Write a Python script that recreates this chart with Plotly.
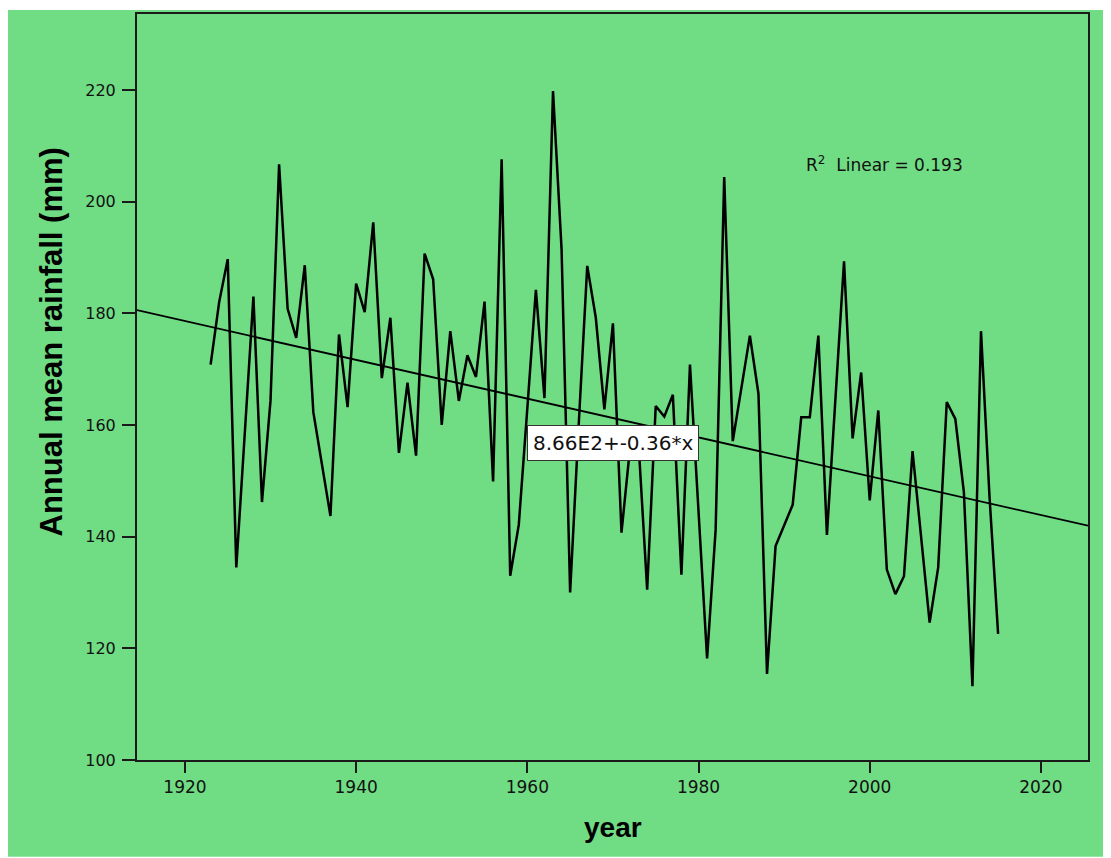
import numpy as np
import plotly.graph_objects as go

years = list(range(1923, 2016))
rainfall = [
    170.8, 182.0, 189.7, 134.5, 158.7, 183.0, 146.2, 164.4, 206.7, 180.8,  # 1923-1932
    175.6, 188.6, 162.3, 153.0, 143.7, 176.2, 163.2, 185.3, 180.2, 196.3,  # 1933-1942
    168.4, 179.2, 155.0, 167.6, 154.5, 190.7, 186.1, 160.0, 176.8, 164.3,  # 1943-1952
    172.5, 168.6, 182.1, 149.9, 207.6, 133.0, 142.1, 163.0, 184.2, 164.8,  # 1953-1962
    219.8, 191.5, 130.0, 160.0, 188.5, 179.2, 162.8, 178.2, 140.7, 156.0,  # 1963-1972
    156.5, 130.5, 163.4, 161.5, 165.4, 133.2, 170.8, 144.5, 118.2, 141.3,  # 1973-1982
    204.4, 157.1, 166.4, 176.0, 165.6, 115.4, 138.3, 142.0, 145.7, 161.4,  # 1983-1992
    161.4, 176.0, 140.3, 164.8, 189.3, 157.6, 169.4, 146.5, 162.6, 134.1,  # 1993-2002
    129.7, 132.9, 155.3, 140.0, 124.6, 134.5, 164.1, 161.1, 148.0, 113.2,  # 2003-2012
    176.8, 147.0, 122.6,                                                    # 2013-2015
]

x_range = [1914.4, 2025.5]
y_range = [100, 233.6]
x_ticks = [1920, 1940, 1960, 1980, 2000, 2020]
y_ticks = [100, 120, 140, 160, 180, 200, 220]
eq_label = "8.66E2+-0.36*x"
r2_label = "R<sup>2</sup>  Linear = 0.193"

GREEN = "#70DC84"

slope, intercept = np.polyfit(years, rainfall, 1)
trend_x = np.array(x_range)
trend_y = intercept + slope * trend_x

fig = go.Figure()
fig.add_trace(go.Scatter(x=trend_x, y=trend_y, mode="lines",
                         line=dict(color="#000000", width=1.8),
                         hoverinfo="skip", showlegend=False))
fig.add_trace(go.Scatter(x=years, y=rainfall, mode="lines",
                         line=dict(color="#000000", width=2.5),
                         showlegend=False))

axis_common = dict(showgrid=False, zeroline=False, showline=True, mirror=True,
                   linecolor="#1a1a1a", linewidth=2, ticks="outside",
                   tickcolor="#1a1a1a", tickwidth=2)

fig.update_xaxes(range=x_range, tickvals=x_ticks, ticklen=11,
                 tickfont=dict(family="DejaVu Sans", size=17, color="#111111"),
                 **axis_common)
fig.update_yaxes(range=y_range, tickvals=y_ticks, ticklen=13,
                 ticklabelstandoff=3,
                 tickfont=dict(family="DejaVu Sans", size=16, color="#111111"),
                 **axis_common)

fig.add_annotation(x=1970.0, y=156.8, xref="x", yref="y", text=eq_label,
                   showarrow=False, bgcolor="#ffffff", bordercolor="#333333",
                   borderwidth=1, borderpad=5,
                   font=dict(family="DejaVu Sans", size=20, color="#111111"))
fig.add_annotation(x=1992.3, y=206.8, xref="x", yref="y", text=r2_label,
                   showarrow=False, xanchor="left", yanchor="middle",
                   font=dict(family="DejaVu Sans", size=17, color="#111111"))

fig.add_annotation(x=0.5, y=-0.09, xref="paper", yref="paper", text="<b>year</b>",
                   showarrow=False, xanchor="center", yanchor="middle",
                   font=dict(family="Liberation Sans", size=28, color="#000000"))
fig.add_annotation(x=-0.0902, y=0.56, xref="paper", yref="paper",
                   text="<b>Annual mean rainfall (mm)</b>", textangle=-90,
                   showarrow=False, xanchor="center", yanchor="middle",
                   font=dict(family="Liberation Sans", size=31, color="#000000"))

# green panel (page has an 8px body margin, figure coords are offset by it)
fig.add_shape(type="rect", xref="paper", yref="paper",
              x0=(0 - 129) / 951, x1=(1097 - 129) / 951,
              y0=(752 - 849) / 748, y1=(752 - 0) / 748,
              fillcolor=GREEN, line=dict(width=0), layer="below")

fig.update_layout(width=1103, height=850,
                  margin=dict(l=129, r=23, t=4, b=98),
                  paper_bgcolor="#ffffff", plot_bgcolor=GREEN,
                  hovermode=False, showlegend=False)

fig.write_html("out.html")
